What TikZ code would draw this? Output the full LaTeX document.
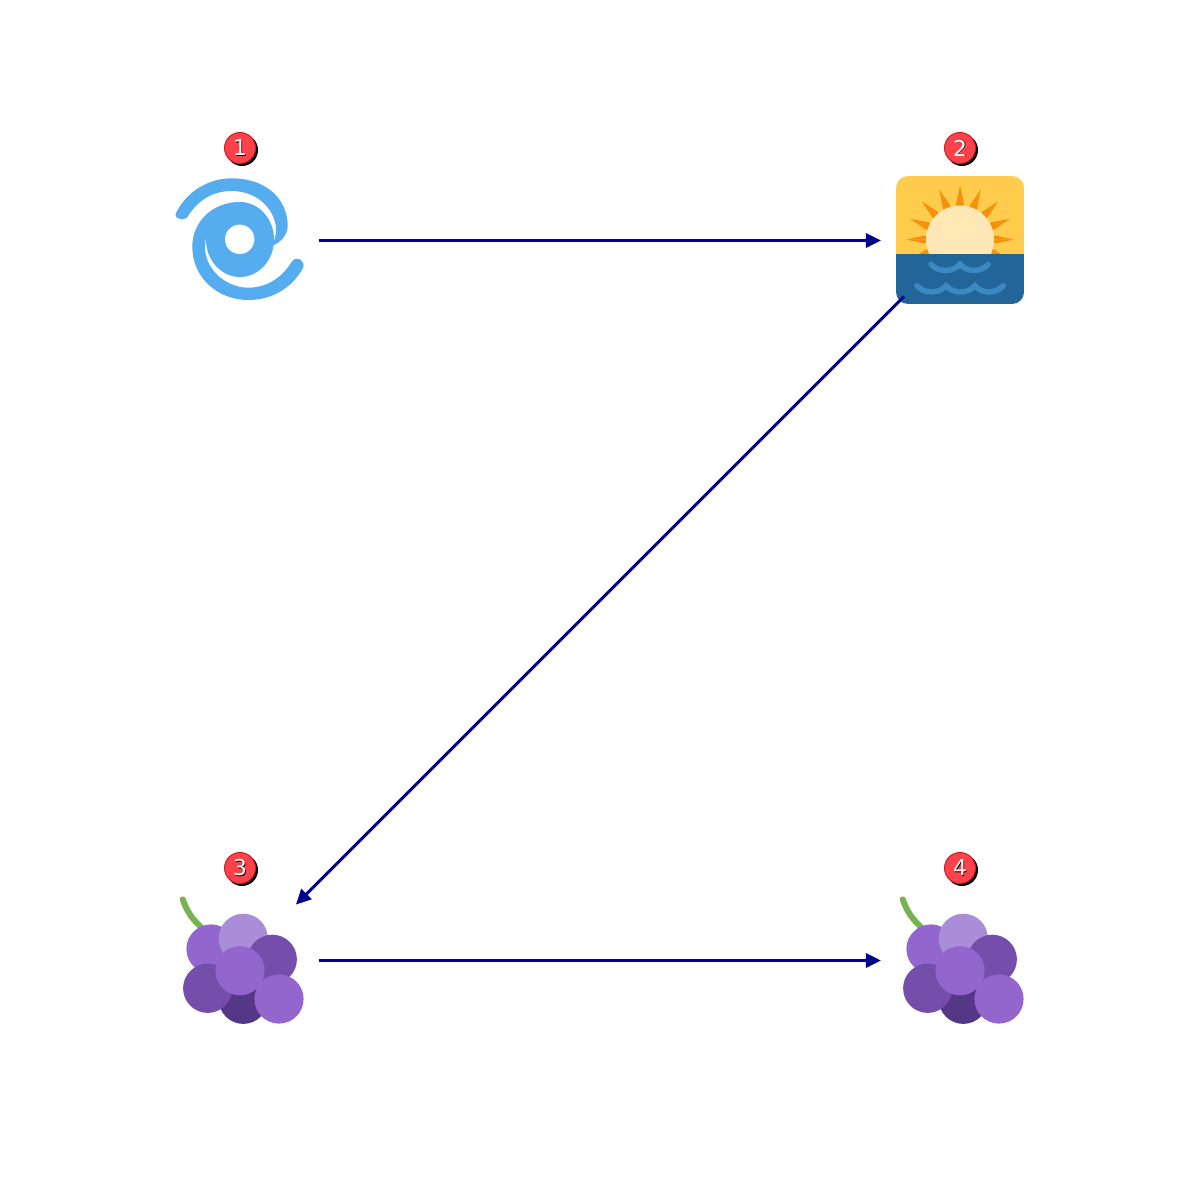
\documentclass[tikz,border=0pt]{standalone}
\usepackage{fontspec}
\setmainfont{DejaVu Sans}
\usetikzlibrary{arrows.meta}
\definecolor{cyclone}{HTML}{55ACEE}
\definecolor{sky}{HTML}{FFCC4D}
\definecolor{ray}{HTML}{F4900C}
\definecolor{sundisc}{HTML}{FFE8B6}
\definecolor{sea}{HTML}{226699}
\definecolor{wave}{HTML}{3B88C3}
\definecolor{grapeA}{HTML}{AA8DD8}
\definecolor{grapeB}{HTML}{9266CC}
\definecolor{grapeC}{HTML}{744EAA}
\definecolor{grapeD}{HTML}{553788}
\definecolor{stem}{HTML}{77B255}
\definecolor{badge}{HTML}{FF4149}
\definecolor{badgeedge}{HTML}{C8202A}
\definecolor{edgeblue}{HTML}{00008B}
\tikzset{
  place/.style={circle,minimum size=1.58cm,inner sep=0pt,outer sep=0pt},
  link/.style={edgeblue,line width=0.03cm,-{Triangle[length=0.15cm,width=0.14cm]}},
  wavy/.style={wave,line width=0.055cm,line cap=round}
}
% numbered badge above an icon
\newcommand{\badge}[3]
        {
          \fill[black] (#1+2,#2+2) circle (16);
          \fill[badge,draw=badgeedge,line width=0.01cm] (#1,#2) circle (15.5);
          \node[text=black,font=\fontsize{6.2}{6.2}\selectfont] (n#3s) at (#1+0.7,#2+0.7) {#3};
          \node[text=white,font=\fontsize{6.2}{6.2}\selectfont] (n#3) at (#1,#2) {#3};
        }
% bunch of grapes, #1 is the x shift
\newcommand{\grapes}[1]
        {
          \begin{scope}[shift={(#1,0)}]
            \draw[stem,line width=0.06cm,line cap=round] (182.7,899.3) .. controls (187,912) and (193,920) .. (203,929);
            \foreach \cx/\cy/\col in {211/949/grapeB,243.3/938.3/grapeA,272.3/959.3/grapeC,243.3/999.3/grapeD,207.7/988.3/grapeC,240/970.7/grapeB,279/999/grapeB} {
              \fill[\col] (\cx,\cy) circle (24.6);
            }
          \end{scope}
        }
\begin{document}
\begin{tikzpicture}[x=0.01cm,y=-0.01cm]
  \useasboundingbox (0,0) rectangle (1200,1200);
  \node[place] (cyclone) at (240,240.5) {};
  \node[place] (sunrise) at (960,240.5) {};
  \node[place] (grapesL) at (240,960.5) {};
  \node[place] (grapesR) at (960,960.5) {};

  %% cyclone
  \fill[cyclone] (240,239.5) ellipse (34 and 37.5);
  \fill[cyclone] (176.7,211.7) .. controls (188,190) and (210,178.3) .. (231.7,178.3)
      .. controls (265,178.3) and (287.7,198) .. (287.7,226)
      .. controls (287.7,235) and (280,243) .. (271.7,246)
      .. controls (277,235) and (277,228) .. (275,222)
      .. controls (270,203) and (252,191) .. (231.7,191)
      .. controls (212,191) and (197,201) .. (187.5,217)
      .. controls (183,222) and (172,218) .. (176.7,211.7) -- cycle;
  \fill[cyclone] (240,202) .. controls (212,202) and (192.3,222) .. (192.3,246.7)
      .. controls (192.3,278) and (218,300) .. (248.3,300)
      .. controls (272,300) and (292,288) .. (303,268)
      .. controls (306,260) and (296,255) .. (291.7,261.7)
      .. controls (282,278) and (266,287.7) .. (248.3,287.7)
      .. controls (224,287.7) and (198,265) .. (206.7,235) -- (240,240) -- cycle;
  \fill[white] (239.7,239.3) circle (14.7);

  %% sunrise
  \begin{scope}
    \clip[rounded corners=0.12cm] (896,176) rectangle (1024,304);
    \fill[sky] (896,176) rectangle (1024,254.3);
    \foreach \a in {0,22.5,...,337.5} {
      \fill[ray] (960,239.5) ++(-\a:54) -- ++(-\a+168:18.5) -- (960,239.5) -- cycle;
      \fill[ray] (960,239.5) ++(-\a:54) -- ++(-\a-168:18.5) -- (960,239.5) -- cycle;
    }
    \fill[sundisc] (960,239.5) circle (34);
    \fill[sea] (896,254.3) rectangle (1024,304);
  \end{scope}
  \draw[wavy] (931,264.3) .. controls (938,272.5) and (953,272.5) .. (960,264.3)
      .. controls (967,272.5) and (981,272.5) .. (988.3,264.3);
  \draw[wavy] (917,285.7) .. controls (924,294) and (939,294) .. (946,285.7)
      .. controls (953,294) and (968,294) .. (975,285.7)
      .. controls (982,294) and (996,294) .. (1003.3,285.7);

  %% grapes
  \grapes{0}
  \grapes{720}

  %% badges
  \badge{240}{148}{1}
  \badge{960}{148}{2}
  \badge{240}{868}{3}
  \badge{960}{868}{4}

  %% links
  \draw[link] (cyclone) -- (sunrise);
  \draw[link] (sunrise) -- (grapesL);
  \draw[link] (grapesL) -- (grapesR);
\end{tikzpicture}
\end{document}
